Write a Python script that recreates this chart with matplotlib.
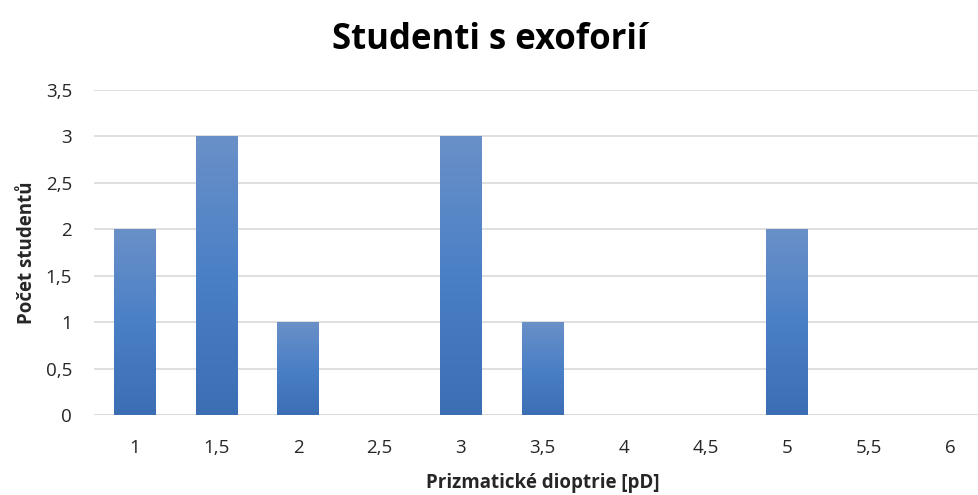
import matplotlib
matplotlib.use("Agg")
import matplotlib.pyplot as plt
import numpy as np
from matplotlib.colors import LinearSegmentedColormap

plt.rcParams['font.family'] = ['Open Sans', 'DejaVu Sans']

categories = ["1", "1,5", "2", "2,5", "3", "3,5", "4", "4,5", "5", "5,5", "6"]
counts = [2, 3, 1, 0, 3, 1, 0, 0, 2, 0, 0]
y_ticks = [0, 0.5, 1, 1.5, 2, 2.5, 3, 3.5]
y_labels = ["0", "0,5", "1", "1,5", "2", "2,5", "3", "3,5"]

fig = plt.figure(figsize=(9.79, 4.95), dpi=100)
# plot area runs a little past the right edge, gridlines get clipped there
ax = fig.add_axes([94.25 / 979, 1 - 415 / 495, 896.5 / 979, 325 / 495])

# vertical gradient fill: dark at bottom, lighter at top
grad = LinearSegmentedColormap.from_list("bar", ["#3c6eb4", "#4a80c6", "#6a90c8"])
ramp = np.linspace(0, 1, 256).reshape(-1, 1)

width = 0.51
x = np.arange(len(categories))
bars = ax.bar(x, counts, width=width, color="none", zorder=3)
for b, v in zip(bars, counts):
    if v <= 0:
        continue
    x0 = b.get_x()
    ax.imshow(ramp, cmap=grad, aspect="auto", origin="lower",
              extent=(x0, x0 + width, 0, v), zorder=3, interpolation="bilinear")

ax.set_xlim(-0.5, len(categories) - 0.5)
ax.set_ylim(0, 3.5)
ax.set_xticks(x)
ax.set_xticklabels(categories, fontsize=13.5, color="#262626")
ax.set_yticks(y_ticks)
ax.set_yticklabels(y_labels, fontsize=13.5, color="#262626")
ax.tick_params(length=0)
ax.tick_params(axis="y", pad=16)
ax.tick_params(axis="x", pad=17)
ax.grid(axis="y", color="#d9d9d9", linewidth=1.2, zorder=0)
for s in ax.spines.values():
    s.set_visible(False)
ax.axhline(0, color="#d9d9d9", linewidth=1.2, zorder=1)

ax.set_xlabel("Prizmatické dioptrie [pD]", fontsize=13.5, fontweight="bold",
              color="#262626", labelpad=12)
ax.set_ylabel("Počet studentů", fontsize=13.5, fontweight="bold",
              color="#262626", labelpad=6)
fig.suptitle("Studenti s exoforií", fontsize=25, fontweight="bold",
             color="#000000", y=0.955)

fig.savefig("out.png", dpi=100)
